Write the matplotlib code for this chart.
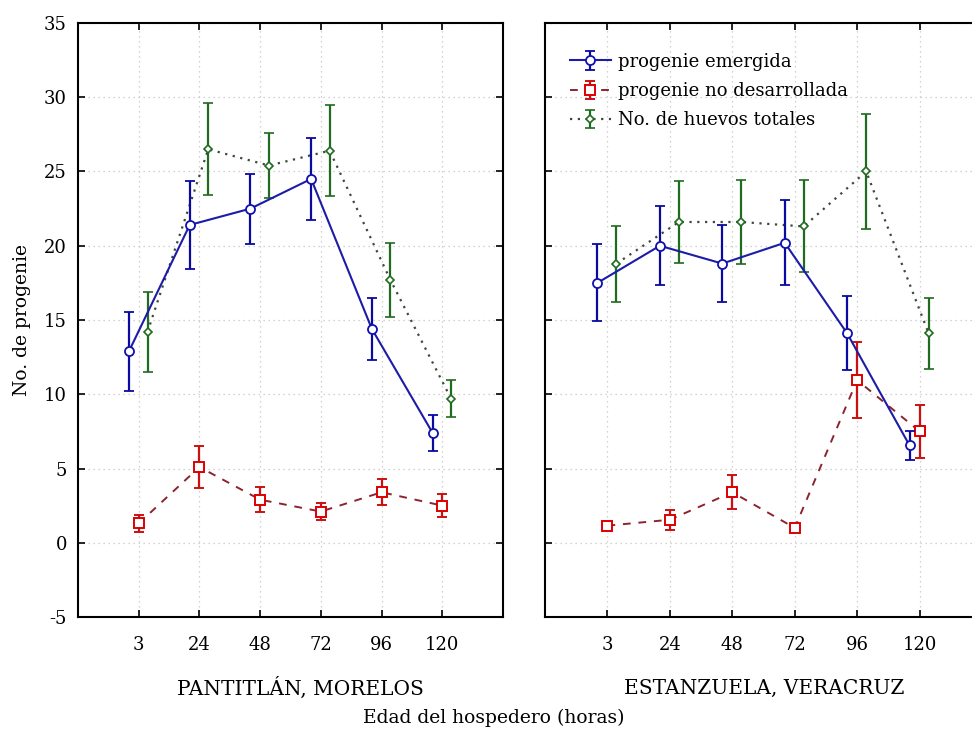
import numpy as np
import matplotlib
matplotlib.use("Agg")
import matplotlib.pyplot as plt

plt.rcParams['font.family'] = ['DejaVu Serif']
plt.rcParams['axes.unicode_minus'] = False

# data
hours = ['3', '24', '48', '72', '96', '120']
site_names = ['PANTITLÁN, MORELOS', 'ESTANZUELA, VERACRUZ']
series_labels = ['progenie emergida', 'progenie no desarrollada', 'No. de huevos totales']

pant_emerg = [12.9, 21.4, 22.5, 24.5, 14.4, 7.4]
pant_emerg_err = [2.65, 2.95, 2.36, 2.76, 2.1, 1.2]
pant_nodes = [1.3, 5.1, 2.9, 2.1, 3.4, 2.5]
pant_nodes_err = [0.58, 1.4, 0.85, 0.6, 0.86, 0.78]
pant_total = [14.2, 26.5, 25.4, 26.4, 17.7, 9.7]
pant_total_err = [2.7, 3.1, 2.2, 3.05, 2.5, 1.24]

est_emerg = [17.5, 20.0, 18.8, 20.2, 14.1, 6.55]
est_emerg_err = [2.6, 2.67, 2.57, 2.87, 2.5, 0.97]
est_nodes = [1.15, 1.55, 3.4, 1.0, 10.95, 7.5]
est_nodes_err = [0.25, 0.67, 1.13, 0.2, 2.57, 1.78]
est_total = [18.8, 21.6, 21.6, 21.3, 25.0, 14.1]
est_total_err = [2.56, 2.76, 2.84, 3.1, 3.9, 2.4]

FS = 13
W, H = 972, 732
fig = plt.figure(figsize=(W / 100, H / 100), dpi=100)

ax1 = fig.add_axes([78 / W, 1 - 617 / H, 425 / W, 594 / H])
ax2 = fig.add_axes([545 / W, 1 - 617 / H, 437 / W, 594 / H])

x = np.arange(1, len(hours) + 1)


def draw_panel(ax, emerg, emerg_err, nodes, nodes_err, total, total_err):
    h1 = ax.errorbar(x - 0.16, emerg, yerr=emerg_err, fmt='o', linestyle='-',
                     color='#1c1ca8', ecolor='#0a0aa0', lw=1.5, elinewidth=1.6,
                     capsize=3.5, capthick=1.4, ms=6.5, mfc='white', mec='#1010b0',
                     mew=1.3, zorder=4)
    h2 = ax.errorbar(x, nodes, yerr=nodes_err, fmt='s', linestyle=(0, (4, 4)),
                     color='#8b2430', ecolor='#cc1010', lw=1.4, elinewidth=1.6,
                     capsize=3.5, capthick=1.4, ms=7, mfc='white', mec='#dd0000',
                     mew=1.4, zorder=3)
    h3 = ax.errorbar(x + 0.145, total, yerr=total_err, fmt='D', linestyle=(0, (1, 2.5)),
                     color='#3a4a3a', ecolor='#1f6b1f', lw=1.6, elinewidth=1.6,
                     capsize=3.5, capthick=1.4, ms=4.5, mfc='white', mec='#1f6b1f',
                     mew=1.2, zorder=3)
    ax.set_xlim(0, 7)
    ax.set_ylim(-5, 35)
    ax.set_yticks(np.arange(-5, 36, 5))
    ax.set_xticks(x)
    ax.set_xticklabels(hours, fontsize=FS)
    ax.grid(True, color='#c4c4c4', linestyle=(0, (1, 3)), linewidth=0.9)
    ax.tick_params(direction='in', top=True, right=True, length=5, width=1.2,
                   labelsize=FS)
    ax.tick_params(axis='x', pad=14)
    ax.tick_params(axis='y', pad=8)
    for s in ax.spines.values():
        s.set_linewidth(1.5)
    return h1, h2, h3


draw_panel(ax1, pant_emerg, pant_emerg_err, pant_nodes, pant_nodes_err,
           pant_total, pant_total_err)
handles = draw_panel(ax2, est_emerg, est_emerg_err, est_nodes, est_nodes_err,
                     est_total, est_total_err)
ax2.tick_params(labelleft=False)

ax2.legend(handles, series_labels, loc='upper left', bbox_to_anchor=(0.04, 0.962),
           frameon=False, fontsize=FS, handlelength=2.3, handletextpad=0.4,
           labelspacing=0.62, borderaxespad=0)

fig.text(300 / W, 1 - 688 / H, site_names[0], ha='center', va='center', fontsize=14.5)
fig.text(764 / W, 1 - 688 / H, site_names[1], ha='center', va='center', fontsize=14.5)
fig.text(494 / W, 1 - 718 / H, 'Edad del hospedero (horas)', ha='center', va='center',
         fontsize=13.5)
fig.text(22 / W, 1 - 320 / H, 'No. de progenie', ha='center', va='center',
         rotation=90, fontsize=13.5)

fig.savefig('out.png', dpi=100)
